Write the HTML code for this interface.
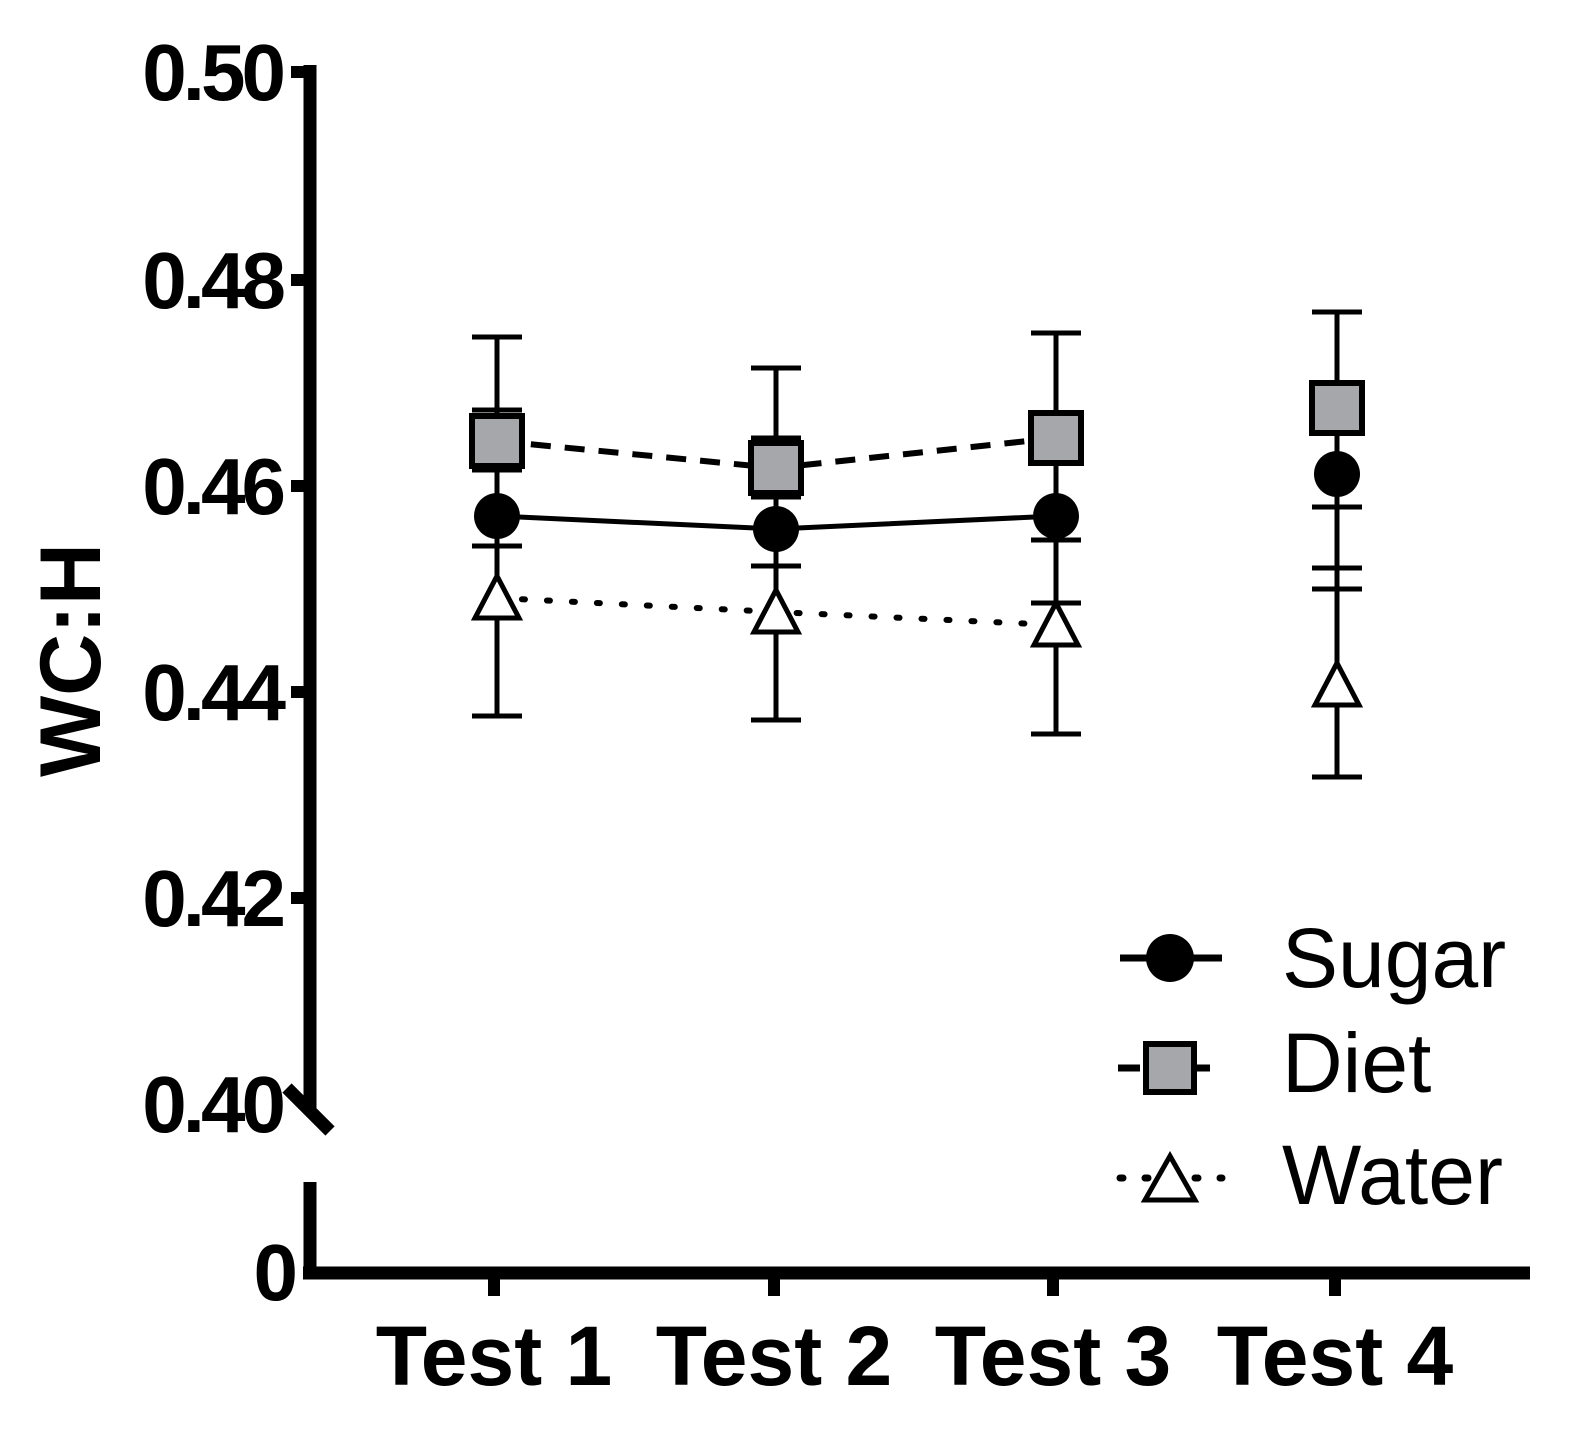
<!DOCTYPE html><html><head><style>body{margin:0;background:#fff}</style></head><body>
<svg width="1577" height="1446" xmlns="http://www.w3.org/2000/svg" font-family="Liberation Sans, Arial, sans-serif">
<rect width="1577" height="1446" fill="#fff"/>
<g stroke="#000" stroke-width="13" fill="none">
<line x1="310" y1="65" x2="310" y2="1110"/>
<line x1="287" y1="1088" x2="330" y2="1131"/>
<line x1="310" y1="1182" x2="310" y2="1273"/>
<line x1="303" y1="1273" x2="1530" y2="1273"/>
<g stroke-width="12">
<line x1="291" y1="72" x2="310" y2="72"/><line x1="291" y1="280" x2="310" y2="280"/>
<line x1="291" y1="486" x2="310" y2="486"/><line x1="291" y1="692" x2="310" y2="692"/>
<line x1="291" y1="898" x2="310" y2="898"/>
<line x1="494" y1="1273" x2="494" y2="1296"/><line x1="774" y1="1273" x2="774" y2="1296"/>
<line x1="1053" y1="1273" x2="1053" y2="1296"/><line x1="1335" y1="1273" x2="1335" y2="1296"/>
</g></g>
<g font-weight="bold" font-size="80" text-anchor="end" letter-spacing="-4">
<text x="282" y="100">0.50</text><text x="282" y="308">0.48</text><text x="282" y="514">0.46</text>
<text x="282" y="720">0.44</text><text x="282" y="926">0.42</text><text x="282" y="1132">0.40</text>
<text x="294" y="1300">0</text></g>
<text transform="translate(100,660) rotate(-90)" font-weight="bold" font-size="86" text-anchor="middle">WC:H</text>
<g font-weight="bold" font-size="84" text-anchor="middle">
<text x="494" y="1385">Test 1</text><text x="774" y="1385">Test 2</text><text x="1053" y="1385">Test 3</text><text x="1335" y="1385">Test 4</text></g>
<g stroke="#000" stroke-width="5">
<line x1="497" y1="337" x2="497" y2="716"/><line x1="776" y1="368" x2="776" y2="720"/>
<line x1="1056" y1="333" x2="1056" y2="734"/><line x1="1337" y1="312" x2="1337" y2="777"/>
<path d="M472 337h50M472 410h50M472 470h50M472 546h50M472 716h50
M751 368h50M751 438h50M751 497h50M751 566h50M751 720h50
M1031 333h50M1031 540h50M1031 603h50M1031 734h50
M1312 312h50M1312 507h50M1312 568h50M1312 589h50M1312 777h50"/>
</g>
<polyline points="497,516 776,529 1056,516" stroke="#000" stroke-width="5" fill="none"/>
<polyline points="497,441 776,468 1056,438" stroke="#000" stroke-width="6" stroke-dasharray="20,14" fill="none"/>
<polyline points="497,598 776,612 1056,625" stroke="#000" stroke-width="6" stroke-dasharray="3,22" stroke-linecap="round" fill="none"/>
<g fill="#a6a7aa" stroke="#000" stroke-width="6">
<rect x="472" y="416" width="50" height="50"/><rect x="751" y="443" width="50" height="50"/>
<rect x="1031" y="413" width="50" height="50"/><rect x="1312" y="383" width="50" height="50"/></g>
<g fill="#000"><circle cx="497" cy="516" r="23"/><circle cx="776" cy="529" r="23"/><circle cx="1056" cy="516" r="23"/><circle cx="1337" cy="474" r="23"/></g>
<g fill="#fff" stroke="#000" stroke-width="5">
<path d="M497 576L519 618H475Z"/><path d="M776 590L798 632H754Z"/><path d="M1056 603L1078 645H1034Z"/><path d="M1337 663L1359 705H1315Z"/></g>
<line x1="1120" y1="958" x2="1222" y2="958" stroke="#000" stroke-width="7"/>
<circle cx="1170" cy="958" r="24"/>
<line x1="1118" y1="1068" x2="1222" y2="1068" stroke="#000" stroke-width="7" stroke-dasharray="22,13"/>
<rect x="1146" y="1044" width="48" height="48" fill="#a6a7aa" stroke="#000" stroke-width="6"/>
<line x1="1120" y1="1178" x2="1222" y2="1178" stroke="#000" stroke-width="7" stroke-dasharray="3,22" stroke-linecap="round"/>
<path d="M1170 1156L1195 1200H1145Z" fill="#fff" stroke="#000" stroke-width="5"/>
<g font-size="84"><text x="1282" y="987">Sugar</text><text x="1282" y="1092">Diet</text><text x="1282" y="1204">Water</text></g>
</svg></body></html>
